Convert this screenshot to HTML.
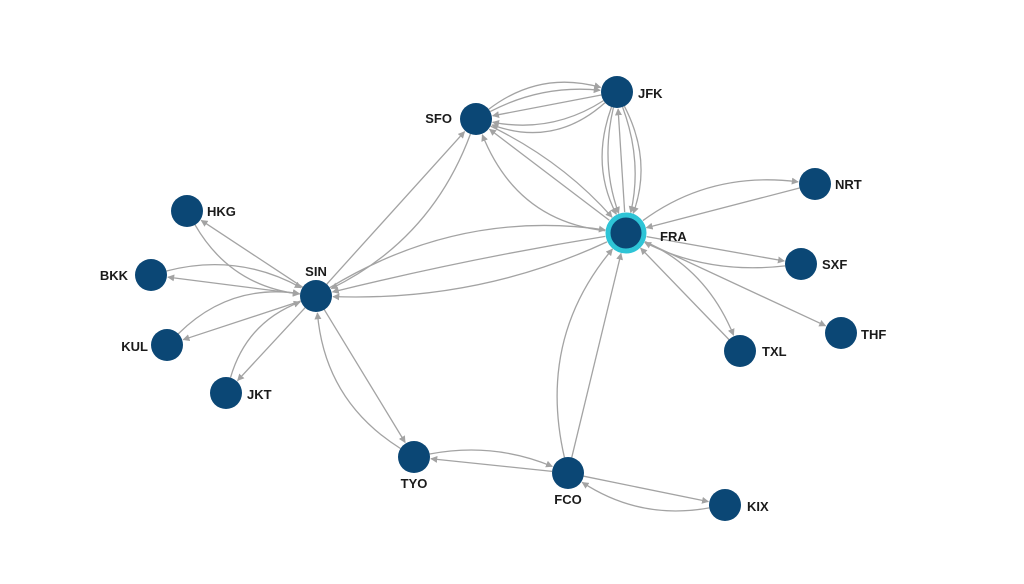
<!DOCTYPE html>
<html><head><meta charset="utf-8"><style>
html,body{margin:0;padding:0;background:#fff;}
svg{display:block;}
text{font-family:"Liberation Sans",sans-serif;font-weight:bold;font-size:13px;fill:#1b1b1b;}
</style></head><body>
<svg id="s" width="1024" height="584" viewBox="0 0 1024 584">
<defs><marker id="a" viewBox="0 0 10 10" refX="9" refY="5" markerWidth="7" markerHeight="7" orient="auto" markerUnits="userSpaceOnUse"><path d="M0,0L10,5L0,10z" fill="#a3a3a3"/></marker></defs>
<g id="e" fill="none" stroke="#a3a3a3" stroke-width="1.3"></g>
<g id="n"></g>
<text x="452" y="123" text-anchor="end">SFO</text>
<text x="638" y="98">JFK</text>
<text x="835" y="189">NRT</text>
<text x="660" y="241">FRA</text>
<text x="822" y="269">SXF</text>
<text x="861" y="339">THF</text>
<text x="762" y="356">TXL</text>
<text x="207" y="216">HKG</text>
<text x="128" y="280" text-anchor="end">BKK</text>
<text x="316" y="276" text-anchor="middle">SIN</text>
<text x="148" y="351" text-anchor="end">KUL</text>
<text x="247" y="399">JKT</text>
<text x="414" y="488" text-anchor="middle">TYO</text>
<text x="568" y="504" text-anchor="middle">FCO</text>
<text x="747" y="511">KIX</text>
</svg>
<script>
var N={SFO:[476,119],JFK:[617,92],NRT:[815,184],FRA:[626,233],SXF:[801,264],THF:[841,333],TXL:[740,351],HKG:[187,211],BKK:[151,275],SIN:[316,296],KUL:[167,345],JKT:[226,393],TYO:[414,457],FCO:[568,473],KIX:[725,505]};
var E=[
["SIN","HKG",0],["HKG","SIN",0.25],
["SIN","BKK",0],["BKK","SIN",-0.2],
["SIN","KUL",0],["KUL","SIN",-0.25],
["SIN","JKT",0],["JKT","SIN",-0.25],
["SIN","SFO",0],["SFO","SIN",-0.2],
["SIN","FRA",-0.18],["FRA","SIN",0.02],["FRA","SIN",-0.12],
["SIN","TYO",0],["TYO","SIN",-0.25],
["TYO","FCO",-0.15],["FCO","TYO",0],
["FCO","KIX",0],["KIX","FCO",-0.2],
["FCO","FRA",0],["FCO","FRA",-0.25],
["SFO","JFK",-0.25],["SFO","JFK",-0.15],["JFK","SFO",0],["JFK","SFO",-0.2],["JFK","SFO",-0.3],
["FRA","SFO",0],["SFO","FRA",-0.1],["FRA","SFO",-0.3],
["FRA","JFK",0],["JFK","FRA",0.15],["JFK","FRA",0.22],["JFK","FRA",-0.15],["JFK","FRA",-0.22],
["FRA","NRT",-0.2],["NRT","FRA",0],
["FRA","SXF",0],["SXF","FRA",-0.15],
["FRA","THF",0],
["TXL","FRA",0],["FRA","TXL",-0.2]
];
var g=document.getElementById('e'),s="";
E.forEach(function(t){var a=N[t[0]],b=N[t[1]],dx=b[0]-a[0],dy=b[1]-a[1];
var cx=(a[0]+b[0])/2-dy*t[2],cy=(a[1]+b[1])/2+dx*t[2];
var ra=t[0]=="FRA"?21:16,rb=t[1]=="FRA"?21:17;
var ux=cx-a[0],uy=cy-a[1],ul=Math.hypot(ux,uy);var sx=a[0]+ux/ul*ra,sy=a[1]+uy/ul*ra;
var vx=cx-b[0],vy=cy-b[1],vl=Math.hypot(vx,vy);var ex=b[0]+vx/vl*rb,ey=b[1]+vy/vl*rb;
s+='<path d="M'+sx+','+sy+' Q'+cx+','+cy+' '+ex+','+ey+'" marker-end="url(#a)"/>';});
g.innerHTML=s;
var h="";for(var k in N){var p=N[k];if(k=="FRA")h+='<circle cx="'+p[0]+'" cy="'+p[1]+'" r="18" fill="#0b4775" stroke="#2ec4d6" stroke-width="5"/>';else h+='<circle cx="'+p[0]+'" cy="'+p[1]+'" r="16" fill="#0b4775"/>';}
document.getElementById('n').innerHTML=h;
</script>
</body></html>
